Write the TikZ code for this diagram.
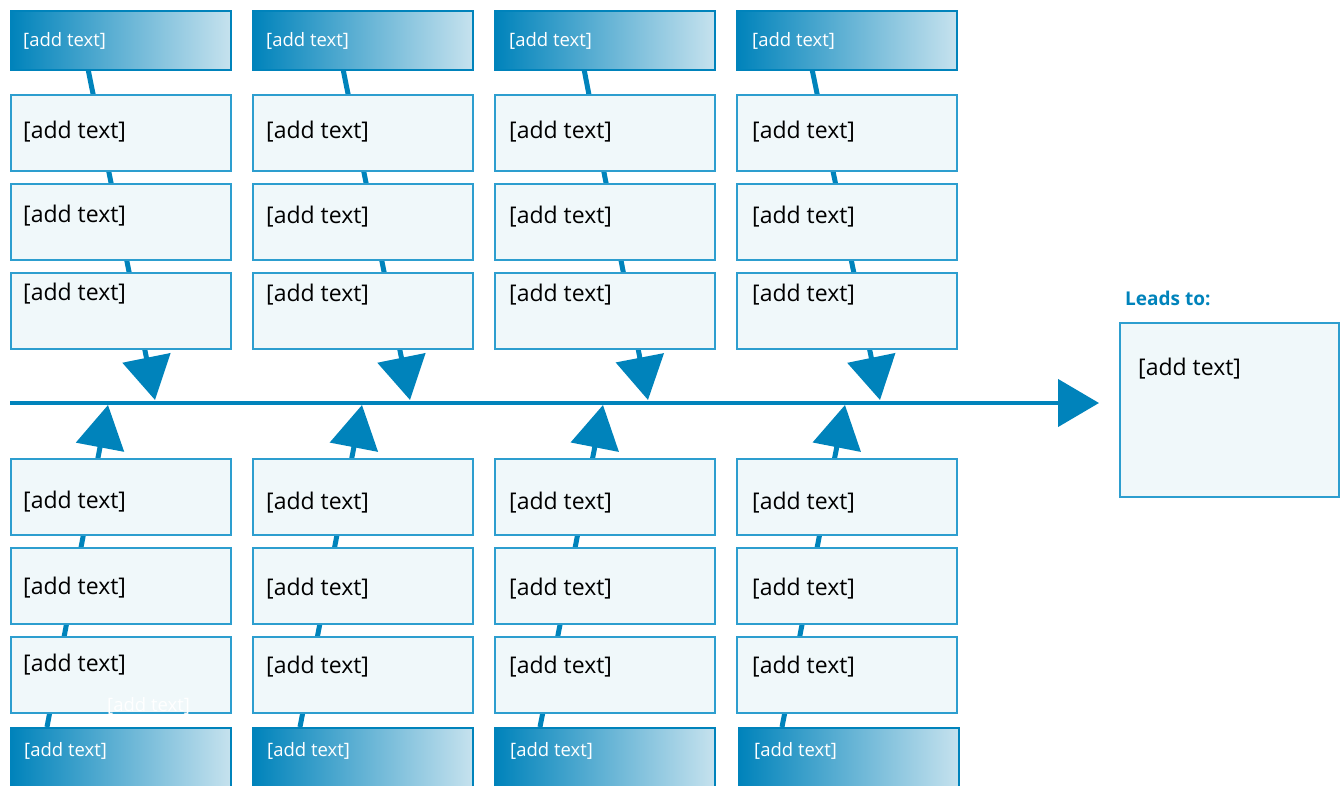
\documentclass[tikz,border=0pt]{standalone}
\usepackage{fontspec}
\setmainfont{Open Sans}
\usetikzlibrary{arrows.meta,backgrounds}

\definecolor{fishblue}{RGB}{0,131,187}
\definecolor{cellline}{RGB}{45,158,207}
\definecolor{cellfill}{RGB}{240,248,250}
\definecolor{hdlight}{RGB}{198,226,238}

\tikzset{
  cell/.style={draw=cellline, fill=cellfill, line width=1.6pt, anchor=north west,
    minimum width=220pt, minimum height=76pt, inner sep=0pt},
  hd/.style={draw=fishblue, left color=fishblue, right color=hdlight, line width=1.8pt,
    anchor=north west, minimum width=220pt, minimum height=59pt, inner sep=0pt},
  txt/.style={anchor=west, inner sep=0pt, font=\fontsize{23}{26}\selectfont},
  hdtxt/.style={anchor=west, inner sep=0pt, text=white, font=\fontsize{18.5}{22}\selectfont},
  rib/.style={fishblue, line width=5pt, -{Triangle[length=43pt,width=48pt]}},
  spine/.style={fishblue, line width=4.5pt, -{Triangle[length=41pt,width=47pt]}}
}

\begin{document}
\begin{tikzpicture}[x=1pt, y=-1pt]
\useasboundingbox (0,0) rectangle (1344,786);

% top headers
\node[hd] (hdA) at (10,10) {};
\node[hd] (hdB) at (252,10) {};
\node[hd] (hdC) at (494,10) {};
\node[hd] (hdD) at (736,10) {};
\node[hdtxt] (hdAt) at (23,41) {[add text]};
\node[hdtxt] (hdBt) at (266,41) {[add text]};
\node[hdtxt] (hdCt) at (509,41) {[add text]};
\node[hdtxt] (hdDt) at (752,41) {[add text]};

% top cells
\node[cell] (A1) at (10,94) {};
\node[cell] (A2) at (10,183) {};
\node[cell] (A3) at (10,272) {};
\node[cell] (B1) at (252,94) {};
\node[cell] (B2) at (252,183) {};
\node[cell] (B3) at (252,272) {};
\node[cell] (C1) at (494,94) {};
\node[cell] (C2) at (494,183) {};
\node[cell] (C3) at (494,272) {};
\node[cell] (D1) at (736,94) {};
\node[cell] (D2) at (736,183) {};
\node[cell] (D3) at (736,272) {};
\node[txt] (A1t) at (23,132) {[add text]};
\node[txt] (A2t) at (23,216) {[add text]};
\node[txt] (A3t) at (23,294) {[add text]};
\node[txt] (B1t) at (266,132) {[add text]};
\node[txt] (B2t) at (266,217) {[add text]};
\node[txt] (B3t) at (266,295) {[add text]};
\node[txt] (C1t) at (509,132) {[add text]};
\node[txt] (C2t) at (509,217) {[add text]};
\node[txt] (C3t) at (509,295) {[add text]};
\node[txt] (D1t) at (752,132) {[add text]};
\node[txt] (D2t) at (752,217) {[add text]};
\node[txt] (D3t) at (752,295) {[add text]};

% bottom cells
\node[cell] (A4) at (10,458) {};
\node[cell] (A5) at (10,547) {};
\node[cell] (A6) at (10,636) {};
\node[cell] (B4) at (252,458) {};
\node[cell] (B5) at (252,547) {};
\node[cell] (B6) at (252,636) {};
\node[cell] (C4) at (494,458) {};
\node[cell] (C5) at (494,547) {};
\node[cell] (C6) at (494,636) {};
\node[cell] (D4) at (736,458) {};
\node[cell] (D5) at (736,547) {};
\node[cell] (D6) at (736,636) {};
\node[txt] (A4t) at (23,502) {[add text]};
\node[txt] (A5t) at (23,588) {[add text]};
\node[txt] (A6t) at (23,665) {[add text]};
\node[txt] (B4t) at (266,503) {[add text]};
\node[txt] (B5t) at (266,589) {[add text]};
\node[txt] (B6t) at (266,667) {[add text]};
\node[txt] (C4t) at (509,503) {[add text]};
\node[txt] (C5t) at (509,589) {[add text]};
\node[txt] (C6t) at (509,667) {[add text]};
\node[txt] (D4t) at (752,503) {[add text]};
\node[txt] (D5t) at (752,589) {[add text]};
\node[txt] (D6t) at (752,667) {[add text]};
\node[hdtxt] (ghost) at (107,706) {[add text]};

% bottom headers
\node[hd] (hdE) at (10,727) {};
\node[hd] (hdF) at (252,727) {};
\node[hd] (hdG) at (494,727) {};
\node[hd] (hdH) at (738,727) {};
\node[hdtxt] (hdEt) at (24,751) {[add text]};
\node[hdtxt] (hdFt) at (267,751) {[add text]};
\node[hdtxt] (hdGt) at (510,751) {[add text]};
\node[hdtxt] (hdHt) at (754,751) {[add text]};

% result
\node[anchor=west, inner sep=0pt, text=fishblue, font=\fontsize{19}{21}\selectfont\bfseries] (leads) at (1125,298) {Leads to:};
\node[cell, minimum width=219pt, minimum height=174pt] (result) at (1119,322) {};
\node[txt] (resultt) at (1138,369) {[add text]};

% ribs and spine
\coordinate (tail) at (10,403);
\coordinate (head) at (1099,403);
\coordinate (rA) at (88,69);   \coordinate (pA) at (155,400);
\coordinate (rB) at (343,69);  \coordinate (pB) at (410,400);
\coordinate (rC) at (584,69);  \coordinate (pC) at (648,400);
\coordinate (rD) at (812,69);  \coordinate (pD) at (880,400);
\coordinate (rE) at (47,727);  \coordinate (pE) at (108,405);
\coordinate (rF) at (300,727); \coordinate (pF) at (362,405);
\coordinate (rG) at (540,727); \coordinate (pG) at (603,405);
\coordinate (rH) at (782,727); \coordinate (pH) at (845,405);
\begin{scope}[on background layer]
\draw[spine] (tail) -- (head);
\draw[rib] (rA) -- (pA);
\draw[rib] (rB) -- (pB);
\draw[rib] (rC) -- (pC);
\draw[rib] (rD) -- (pD);
\draw[rib] (rE) -- (pE);
\draw[rib] (rF) -- (pF);
\draw[rib] (rG) -- (pG);
\draw[rib] (rH) -- (pH);
\end{scope}
\end{tikzpicture}
\end{document}
